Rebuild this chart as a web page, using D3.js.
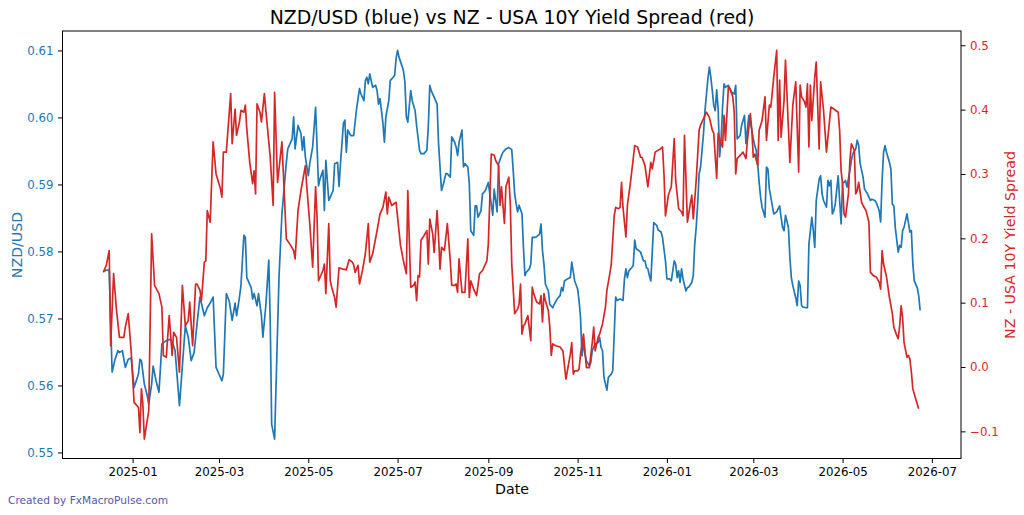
<!DOCTYPE html>
<html>
<head>
<meta charset="utf-8">
<script src="https://cdn.jsdelivr.net/npm/d3@7"></script>
<style>
  body { margin: 0; background: #fff; }
  text { font-family: "DejaVu Sans", sans-serif; }
</style>
</head>
<body>
<svg id="chart" width="1024" height="515"></svg>
<script>
// day offsets count from this date
const startDate = new Date(2024, 11, 12);

// [day, NZD/USD]
const nzdusd = [
[0,0.5770],[2,0.5772],[4,0.5772],[6,0.5620],[8,0.5639],[10,0.5652],[11,0.5649],[13,0.5652],[15,0.5627],[17,0.5639],[19,0.5641],[21,0.5597],[24,0.5617],[25,0.5639],[26,0.5637],[28,0.5602],[30,0.5585],[31,0.5572],[33,0.5602],[34,0.5629],[36,0.5607],[38,0.5590],[40,0.5662],[43,0.5667],[46,0.5669],[48,0.5659],[49,0.5652],[52,0.5570],[56,0.5689],[58,0.5672],[60,0.5637],[62,0.5649],[64,0.5692],[66,0.5732],[69,0.5704],[71,0.5716],[73,0.5723],[75,0.5732],[77,0.5627],[81,0.5607],[82,0.5617],[84,0.5737],[86,0.5726],[88,0.5697],[90,0.5723],[91,0.5704],[93,0.5732],[94,0.5749],[96,0.5824],[97,0.5821],[98,0.5761],[101,0.5746],[102,0.5729],[103,0.5737],[105,0.5719],[106,0.5737],[108,0.5704],[109,0.5672],[111,0.5719],[113,0.5787],[114,0.5697],[115,0.5542],[117,0.5520],[119,0.5682],[120,0.5761],[122,0.5856],[125,0.5933],
[126,0.5953],[129,0.5968],[130,0.6001],[131,0.5953],[133,0.5988],[135,0.5976],[136,0.5951],[137,0.5971],[138,0.5941],[140,0.5913],[141,0.5931],[143,0.5956],[145,0.6015],[147,0.5898],[148,0.5908],[150,0.5921],[151,0.5861],[152,0.5936],[154,0.5876],[155,0.5881],[157,0.5891],[158,0.5931],[160,0.5933],[161,0.5897],[162,0.5931],[164,0.5991],[165,0.5996],[166,0.5948],[167,0.5981],[169,0.5973],[171,0.5973],[173,0.6013],[175,0.6043],[176,0.6035],[178,0.6025],[179,0.6055],[180,0.6060],[181,0.6050],[182,0.6065],[183,0.6055],[184,0.6045],[186,0.6048],[187,0.6040],[188,0.6020],[189,0.6028],[190,0.6010],[191,0.5991],[192,0.5963],[193,0.6001],[195,0.6025],[196,0.6055],[198,0.6060],[199,0.6063],[200,0.6088],[201,0.6100],[202,0.6090],[205,0.6070],[206,0.6053],[207,0.6001],[208,0.5993],[210,0.6040],[211,0.6025],[213,0.6010],[214,0.5988],[216,0.5951],[217,0.5946],[219,0.5946],[221,0.5951],[222,0.5986],[223,0.6048],[224,0.6040],[226,0.6030],[228,0.6020],[229,0.5961],[231,0.5891],[232,0.5898],[234,0.5916],[235,0.5916],[237,0.5911],[238,0.5971],[240,0.5963],[241,0.5956],[242,0.5943],[243,0.5963],[245,0.5981],[246,0.5926],[247,0.5931],[249,0.5926],[250,0.5901],[251,0.5831],[253,0.5824],[254,0.5868],[255,0.5868],[256,0.5851],[258,0.5861],[259,0.5886],[261,0.5891],[263,0.5903],[264,0.5886],[265,0.5871],[266,0.5854],[267,0.5893],[269,0.5859],[270,0.5931],[272,0.5943],[273,0.5948],[275,0.5953],
[277,0.5955],[279,0.5952],[280,0.5921],[281,0.5886],[282,0.5871],[283,0.5859],[284,0.5869],[286,0.5856],[287,0.5806],[288,0.5764],[289,0.5769],[291,0.5774],[292,0.5781],[293,0.5821],[295,0.5821],[296,0.5822],[298,0.5826],[299,0.5841],[300,0.5801],[301,0.5781],[302,0.5751],[304,0.5741],[305,0.5721],[307,0.5716],[308,0.5721],[310,0.5729],[312,0.5734],[313,0.5746],[314,0.5741],[315,0.5756],[317,0.5759],[319,0.5761],[320,0.5784],[322,0.5756],[324,0.5744],[325,0.5726],[326,0.5701],[327,0.5644],[328,0.5664],[329,0.5647],[330,0.5637],[332,0.5629],[333,0.5634],[334,0.5652],[336,0.5662],[338,0.5664],[339,0.5672],[340,0.5657],[341,0.5652],[342,0.5612],[344,0.5593],[345,0.5612],[347,0.5617],[348,0.5622],[350,0.5732],[351,0.5727],[353,0.5729],[355,0.5727],[356,0.5759],[357,0.5774],[358,0.5761],[359,0.5771],[361,0.5776],[362,0.5779],[363,0.5817],[364,0.5804],[366,0.5801],[367,0.5799],[369,0.5786],[370,0.5786],[371,0.5776],[372,0.5774],[373,0.5764],[374,0.5756],[376,0.5843],[378,0.5839],[379,0.5832],[381,0.5829],[382,0.5821],[384,0.5786],[385,0.5759],[387,0.5759],[388,0.5756],[390,0.5786],[391,0.5781],[392,0.5761],[393,0.5771],[394,0.5754],[395,0.5774],[396,0.5759],[398,0.5741],[399,0.5746],[400,0.5747],[402,0.5754],[403,0.5764],[404,0.5811],[405,0.5836],[406,0.5871],[407,0.5916],[408,0.5926],[409,0.5951],[410,0.5976],[411,0.6010],[413,0.6058],[414,0.6075],[415,0.6060],[416,0.6040],[417,0.6018],[418,0.6010],[419,0.6041],[420,0.6013],
[421,0.5941],[422,0.5966],[423,0.6015],[424,0.6050],[425,0.6045],[427,0.6048],[428,0.6043],[429,0.6038],[431,0.6035],[432,0.6048],[433,0.5968],[435,0.5973],[436,0.5988],[438,0.6003],[439,0.5961],[440,0.5983],[441,0.6003],[443,0.5981],[444,0.5968],[445,0.5958],[446,0.5951],[447,0.5931],[448,0.5903],[449,0.5881],[450,0.5866],[452,0.5851],[453,0.5926],[454,0.5923],[455,0.5893],[456,0.5881],[457,0.5868],[458,0.5856],[460,0.5859],[461,0.5864],[462,0.5868],[463,0.5851],[464,0.5836],[465,0.5831],[466,0.5854],[468,0.5836],[469,0.5791],[470,0.5761],[471,0.5749],[473,0.5731],[474,0.5719],[475,0.5756],[476,0.5749],[477,0.5719],[478,0.5717],[480,0.5716],[481,0.5716],[482,0.5811],[483,0.5831],[484,0.5851],[485,0.5831],[486,0.5806],[487,0.5876],[489,0.5908],[490,0.5913],[491,0.5886],[492,0.5876],[494,0.5866],[495,0.5906],[496,0.5898],[497,0.5906],[498,0.5856],[499,0.5861],[500,0.5871],[502,0.5913],[503,0.5876],[504,0.5841],[505,0.5903],[506,0.5903],[507,0.5906],[508,0.5896],[510,0.5921],[511,0.5936],[512,0.5946],[514,0.5953],[515,0.5966],[516,0.5958],[517,0.5931],[519,0.5911],[520,0.5893],[522,0.5886],[524,0.5876],[525,0.5878],[527,0.5876],[528,0.5873],[530,0.5861],[531,0.5844],[532,0.5906],[533,0.5948],[534,0.5958],[535,0.5948],[537,0.5933],[538,0.5923],[539,0.5871],[540,0.5868],[541,0.5836],[543,0.5799],[544,0.5809],[545,0.5806],[546,0.5831],[547,0.5836],[548,0.5846],[549,0.5856],[551,0.5829],[552,0.5831],[553,0.5781],[554,0.5756],[556,0.5746],[557,0.5734],[558,0.5712]
];

// [day, NZ - USA 10Y yield spread]
const spread = [
[0,0.147],[2,0.158],[4,0.181],[5,0.033],[7,0.145],[9,0.088],[11,0.046],[14,0.046],[15,0.062],[17,0.083],[19,0.025],[21,-0.055],[24,-0.063],[25,-0.102],[26,-0.034],[27,-0.058],[28,-0.112],[31,-0.068],[33,0.207],[35,0.127],[38,0.114],[40,0.093],[41,0.018],[43,0.015],[45,0.080],[47,0.018],[48,0.054],[50,0.046],[52,-0.008],[54,0.127],[56,0.064],[58,0.072],[59,0.101],[61,0.033],[63,0.129],[64,0.129],[66,0.119],[67,0.103],[69,0.163],[70,0.165],[71,0.243],[73,0.225],[75,0.350],[77,0.300],[80,0.277],[81,0.264],[82,0.334],[84,0.334],[87,0.425],[88,0.347],[90,0.401],[91,0.360],[93,0.381],[94,0.399],[96,0.396],[97,0.407],[98,0.370],[100,0.318],[102,0.285],[103,0.305],[104,0.269],[105,0.409],[107,0.396],[108,0.381],[110,0.425],[111,0.399],[114,0.326],[116,0.251],[117,0.427],[119,0.287],[122,0.350],[125,0.199],
[128,0.189],[130,0.181],[131,0.168],[133,0.243],[135,0.274],[138,0.313],[139,0.280],[141,0.223],[143,0.155],[145,0.280],[146,0.233],[147,0.134],[150,0.150],[151,0.160],[152,0.114],[154,0.223],[155,0.134],[156,0.124],[158,0.108],[159,0.093],[161,0.154],[164,0.152],[166,0.151],[168,0.167],[170,0.163],[171,0.159],[172,0.147],[174,0.158],[175,0.129],[177,0.150],[179,0.176],[181,0.223],[182,0.163],[184,0.176],[187,0.212],[189,0.238],[191,0.248],[193,0.272],[194,0.238],[195,0.264],[197,0.251],[200,0.256],[201,0.233],[203,0.189],[205,0.165],[207,0.145],[208,0.274],[210,0.124],[212,0.127],[213,0.132],[214,0.103],[215,0.142],[216,0.140],[217,0.197],[219,0.204],[221,0.212],[222,0.160],[223,0.230],[225,0.207],[226,0.178],[228,0.243],[229,0.202],[230,0.152],[231,0.186],[233,0.181],[234,0.202],[235,0.223],[237,0.165],[238,0.127],[240,0.127],[241,0.129],[242,0.116],[243,0.168],[245,0.116],[247,0.116],[249,0.199],[250,0.108],[251,0.134],[253,0.121],[255,0.111],[257,0.145],[259,0.150],[262,0.165],[263,0.191],[265,0.331],[267,0.329],[268,0.321],[270,0.313],[271,0.251],[272,0.280],[274,0.223],[275,0.280],[277,0.295],
[278,0.254],[279,0.160],[281,0.083],[283,0.090],[284,0.098],[285,0.129],[286,0.051],[287,0.064],[288,0.067],[290,0.080],[292,0.041],[293,0.124],[294,0.114],[296,0.101],[298,0.098],[299,0.111],[300,0.070],[301,0.114],[302,0.103],[304,0.088],[305,0.062],[306,0.018],[307,0.036],[309,0.033],[312,0.031],[314,0.025],[316,-0.019],[317,-0.006],[319,0.020],[320,0.038],[321,-0.011],[322,-0.006],[324,-0.006],[325,-0.003],[326,0.020],[328,0.051],[329,0.025],[330,-0.001],[332,-0.001],[334,0.038],[335,0.062],[336,0.025],[338,0.046],[339,0.051],[341,0.067],[343,0.093],[344,0.119],[346,0.145],[347,0.160],[349,0.235],[350,0.248],[352,0.246],[353,0.248],[354,0.287],[355,0.248],[357,0.202],[358,0.251],[360,0.285],[362,0.324],[363,0.344],[365,0.342],[367,0.326],[368,0.326],[370,0.313],[372,0.280],[374,0.318],[375,0.308],[376,0.321],[377,0.334],[379,0.337],[380,0.338],[382,0.342],[383,0.300],[384,0.235],[386,0.267],[387,0.274],[388,0.280],[390,0.355],[391,0.290],[393,0.246],[395,0.241],[396,0.235],[397,0.360],[399,0.225],[401,0.254],[402,0.267],[403,0.230],[405,0.290],[407,0.368],[408,0.376],[410,0.386],[412,0.396],[414,0.388],[415,0.378],[416,0.368],[417,0.363],[419,0.293],[420,0.363],
[422,0.347],[423,0.342],[424,0.391],[425,0.352],[427,0.435],[428,0.433],[430,0.420],[431,0.396],[432,0.300],[433,0.324],[435,0.329],[437,0.334],[439,0.324],[440,0.352],[442,0.394],[443,0.368],[444,0.326],[445,0.331],[447,0.313],[448,0.368],[450,0.383],[452,0.420],[453,0.352],[455,0.407],[456,0.404],[458,0.451],[460,0.492],[461,0.352],[462,0.446],[463,0.357],[465,0.414],[466,0.477],[469,0.318],[471,0.407],[473,0.443],[475,0.303],[476,0.438],[477,0.420],[479,0.412],[480,0.404],[481,0.440],[482,0.342],[483,0.438],[484,0.383],[486,0.451],[487,0.474],[489,0.339],[490,0.443],[492,0.399],[494,0.334],[497,0.404],[499,0.401],[502,0.396],[503,0.368],[504,0.305],[505,0.285],[506,0.238],[507,0.233],[509,0.269],[510,0.321],[511,0.347],[513,0.337],[514,0.269],[515,0.274],[516,0.287],[518,0.256],[519,0.251],[521,0.243],[523,0.225],[524,0.147],[526,0.142],[528,0.140],[530,0.132],[531,0.121],[532,0.181],[533,0.160],[535,0.140],[536,0.124],[537,0.108],[539,0.083],[540,0.062],[542,0.049],[543,0.044],[544,0.064],[545,0.095],[546,0.077],[547,0.038],[549,0.015],[550,0.018],[551,0.012],[552,-0.008],[553,-0.034],[555,-0.050],[557,-0.065]
];

const BLUE = "#1f77b4", RED = "#d62728";
const box = { left: 62.5, right: 961, top: 31, bottom: 458.5 };

const svg = d3.select("#chart");
const day = n => d3.timeDay.offset(startDate, n);

// matplotlib style 5% margins around the data
const padded = (ext) => {
    const p = (ext[1] - ext[0]) * 0.05;
    return [ext[0] - p, ext[1] + p];
};

const dayExt = padded(d3.extent(nzdusd.concat(spread), d => d[0]));
const x = d3.scaleTime()
    .domain([new Date(+startDate + dayExt[0] * 864e5), new Date(+startDate + dayExt[1] * 864e5)])
    .range([box.left, box.right]);
const yL = d3.scaleLinear().domain(padded(d3.extent(nzdusd, d => d[1]))).range([box.bottom, box.top]);
const yR = d3.scaleLinear().domain(padded(d3.extent(spread, d => d[1]))).range([box.bottom, box.top]);

// lines, clipped to the axes box
svg.append("clipPath").attr("id", "clip").append("rect")
    .attr("x", box.left).attr("y", box.top)
    .attr("width", box.right - box.left).attr("height", box.bottom - box.top);

const plot = svg.append("g").attr("clip-path", "url(#clip)");
plot.append("path").datum(nzdusd)
    .attr("fill", "none").attr("stroke", BLUE).attr("stroke-width", 1.7).attr("stroke-linejoin", "round")
    .attr("d", d3.line().x(d => x(day(d[0]))).y(d => yL(d[1])));
plot.append("path").datum(spread)
    .attr("fill", "none").attr("stroke", RED).attr("stroke-width", 1.7).attr("stroke-linejoin", "round")
    .attr("d", d3.line().x(d => x(day(d[0]))).y(d => yR(d[1])));

// frame
svg.append("rect")
    .attr("x", box.left).attr("y", box.top)
    .attr("width", box.right - box.left).attr("height", box.bottom - box.top)
    .attr("fill", "none").attr("stroke", "#000").attr("stroke-width", 1);

const styleAxis = (g, color) => {
    g.select(".domain").remove();
    g.selectAll(".tick line").attr("stroke", "#000");
    g.selectAll(".tick text").attr("fill", color)
        .style("font-family", "'DejaVu Sans', sans-serif").style("font-size", "11.8px");
};

svg.append("g").attr("transform", `translate(0,${box.bottom})`)
    .call(d3.axisBottom(x).ticks(d3.timeMonth.every(2)).tickFormat(d3.timeFormat("%Y-%m")).tickSize(4.5).tickPadding(4.5))
    .call(g => styleAxis(g, "#000"));

svg.append("g").attr("transform", `translate(${box.left},0)`)
    .call(d3.axisLeft(yL).ticks(6).tickFormat(d3.format(".2f")).tickSize(4.5).tickPadding(4.5))
    .call(g => styleAxis(g, BLUE));

svg.append("g").attr("transform", `translate(${box.right},0)`)
    .call(d3.axisRight(yR).ticks(6).tickFormat(d3.format(".1f")).tickSize(4.5).tickPadding(4.5))
    .call(g => styleAxis(g, RED));

// titles and labels
svg.append("text").attr("x", 512).attr("y", 23.5).attr("text-anchor", "middle")
    .style("font-size", "18.9px").attr("fill", "#000")
    .text("NZD/USD (blue) vs NZ - USA 10Y Yield Spread (red)");

svg.append("text").attr("x", 512).attr("y", 494).attr("text-anchor", "middle")
    .style("font-size", "14.2px").attr("fill", "#000").text("Date");

svg.append("text").attr("transform", "translate(22,245) rotate(-90)").attr("text-anchor", "middle")
    .style("font-size", "14.2px").attr("fill", BLUE).text("NZD/USD");

svg.append("text").attr("transform", "translate(1015,245) rotate(-90)").attr("text-anchor", "middle")
    .style("font-size", "14.2px").attr("fill", RED).text("NZ - USA 10Y Yield Spread");

svg.append("text").attr("x", 8).attr("y", 504)
    .style("font-size", "10.6px").attr("fill", "#5656a8").text("Created by FxMacroPulse.com");
</script>
</body>
</html>
